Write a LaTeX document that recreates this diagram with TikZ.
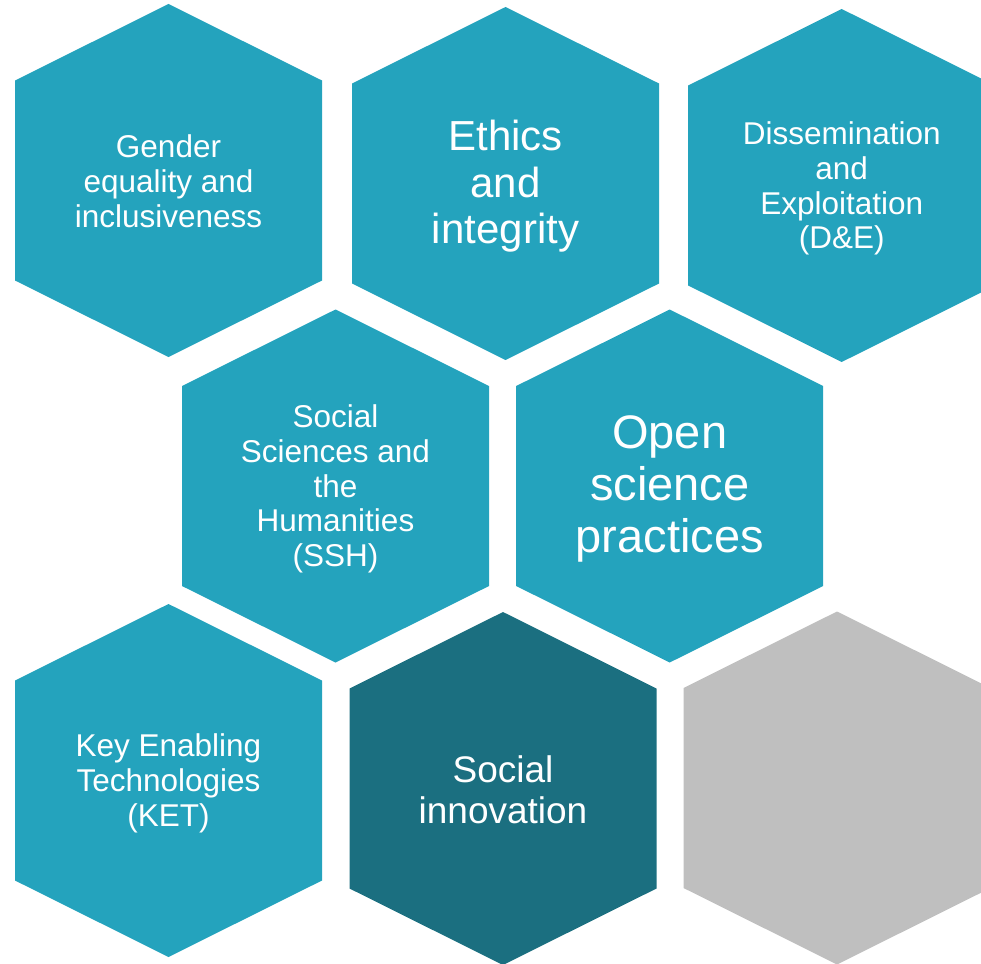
\documentclass[tikz,border=0pt]{standalone}
\usepackage{fontspec}
\setmainfont{Liberation Sans}
\usepackage{tikz}
\definecolor{hexteal}{RGB}{36,163,189}
\definecolor{hexdark}{RGB}{27,111,128}
\definecolor{hexgray}{RGB}{191,191,191}
\tikzset{
    hexa/.pic={\fill (0,-176.5) -- (153.5,-100) -- (153.5,100) -- (0,176.5) -- (-153.5,100) -- (-153.5,-100) -- cycle;},
    hexlabel/.style={text=white, align=center, inner sep=0pt, yshift=-3pt},
    smalltext/.style={font=\fontsize{31.5}{34.8}\selectfont},
}

\begin{document}
\begin{tikzpicture}[x=1pt, y=-1pt]
    %KANVAS
    \useasboundingbox (0,0) rectangle (981,963);
    \clip (0,0) rectangle (981,963);
    %BARIS 1
    \pic[fill=hexteal] at (168.5,180.5) {hexa};
    \pic[fill=hexteal] at (505.5,183.5) {hexa};
    \pic[fill=hexteal] at (841.7,185.5) {hexa};
    %BARIS 2
    \pic[fill=hexteal] at (335.5,486) {hexa};
    \pic[fill=hexteal] at (669.7,486) {hexa};
    %BARIS 3
    \pic[fill=hexteal] at (168.5,780.5) {hexa};
    \pic[fill=hexdark] at (503,788.5) {hexa};
    \pic[fill=hexgray] at (837,788) {hexa};
    %LABEL
    \node[hexlabel, smalltext, yshift=2pt] (gender) at (168.5,180.5) {Gender\\equality and\\inclusiveness};
    \node[hexlabel, font=\fontsize{42}{46.5}\selectfont] (ethics) at (505.5,183.5) {Ethics\\and\\integrity};
    \node[hexlabel, smalltext] (dande) at (841.7,185.5) {Dissemination\\and\\Exploitation\\(D\&E)};
    \node[hexlabel, smalltext] (ssh) at (335.5,486) {Social\\Sciences and\\the\\Humanities\\(SSH)};
    \node[hexlabel, font=\fontsize{47}{52}\selectfont] (open) at (669.7,486) {Open\\science\\practices};
    \node[hexlabel, smalltext] (ket) at (168.5,780.5) {Key Enabling\\Technologies\\(KET)};
    \node[hexlabel, font=\fontsize{37}{41}\selectfont, yshift=2pt] (innov) at (503,788.5) {Social\\innovation};
\end{tikzpicture}
\end{document}
